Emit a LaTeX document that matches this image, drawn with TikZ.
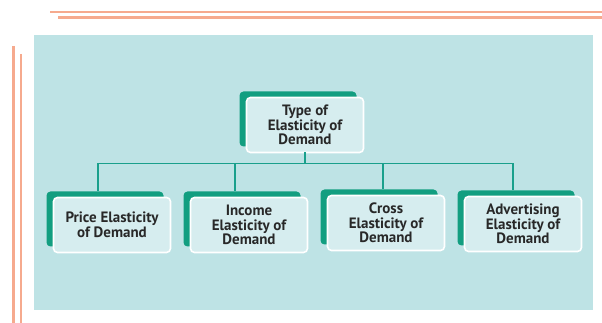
\documentclass[tikz,border=0pt]{standalone}
\usepackage{fontspec}
\setmainfont{PT Sans}
\usepackage{tikz}
\usetikzlibrary{calc,positioning}
\definecolor{pagebg}{RGB}{190,227,229}
\definecolor{boxfill}{RGB}{214,237,239}
\definecolor{boxgreen}{RGB}{18,158,128}
\definecolor{linkgreen}{RGB}{26,160,140}
\definecolor{rule}{RGB}{246,170,142}
\definecolor{textgray}{RGB}{40,40,40}
\newdimen\hdim
\newdimen\wdim
\hdim=55pt
\wdim=117pt
\tikzstyle{element}=[
  draw=white,
  fill=boxfill,
  line width=1.6pt,
  font={\bfseries\fontsize{15}{14.5}\selectfont},
  text=textgray,
  align=center,
  inner sep=0pt,
  minimum height=\hdim,
  minimum width=\wdim,
  outer sep=0pt,
  rectangle,
  rounded corners=4pt,
  preaction={fill=boxgreen, draw=none, transform canvas={shift={(-7pt,6pt)}}},
]
\tikzstyle{link}=[
  draw=linkgreen,
  line width=1.8pt,
]
\tikzstyle{rule}=[
  draw=rule,
  line width=2.5pt,
]
\tikzset{
  node distance=20pt,
}

\begin{document}
\begin{tikzpicture}[x=1pt,y=1pt]
  \useasboundingbox (0,0) rectangle (602,323);
  % page decoration
  \fill [pagebg] (34,13) rectangle (593,288);
  \draw [rule] (50,311) -- (602,311);
  \draw [rule] (58,305.5) -- (602,305.5);
  \draw [rule] (13.5,277) -- (13.5,0);
  \draw [rule] (21,269) -- (21,0);
  % boxes
  \node (type) [element] at (305,198) {Type of\\Elasticity of\\Demand};
  \node (price) [element] at (112,98) {Price Elasticity\\of Demand};
  \node (income) [element, right=of price] {Income\\Elasticity of\\Demand};
  \node (cross) [element, right=of income, yshift=2pt] {Cross\\Elasticity of\\Demand};
  \node (advert) [element, right=of cross, yshift=-1pt] {Advertising\\Elasticity of\\Demand};
  % tree links
  \coordinate (bus) at ($(type.south)+(0,-11pt)$);
  \draw [link] (type.south) -- (bus);
  \foreach \n/\dx in {price/-14pt, income/-14pt, cross/-3pt, advert/-10pt}
    \draw [link] (bus) -| ([xshift=\dx, yshift=6pt]\n.north);
\end{tikzpicture}
\end{document}
